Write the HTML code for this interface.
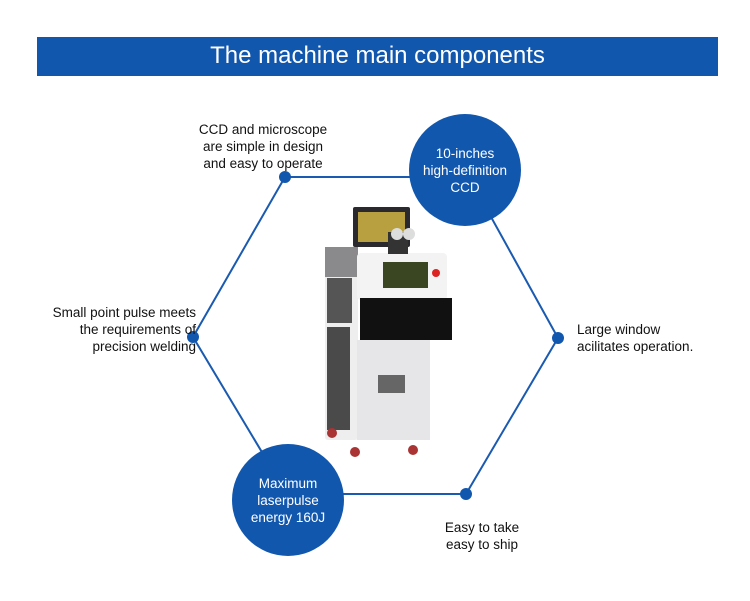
<!DOCTYPE html><html><head><style>
body{margin:0;background:#fff;width:750px;height:601px;overflow:hidden;position:relative;font-family:"Liberation Sans",sans-serif}
.hd{position:absolute;left:37px;top:37px;width:681px;height:39px;background:#1257ae;color:#fff;font-size:24px;text-align:center;line-height:38px}
.t{position:absolute;font-size:13.5px;line-height:17px;color:#111}
.c{position:absolute;color:#fff;font-size:13.5px;line-height:17px;text-align:center}
</style></head><body>
<div class="hd">The machine main components</div>
<svg width="750" height="601" style="position:absolute;left:0;top:0">
<g stroke="#1a5ab0" stroke-width="2" fill="none">
<polyline points="465,170 558,338 466,494 287,494 193,337 285,177 465,177"/>
</g>
<g fill="#1257ae">
<circle cx="465" cy="170" r="56"/><circle cx="288" cy="500" r="56"/>
<circle cx="285" cy="177" r="6"/><circle cx="558" cy="338" r="6"/><circle cx="466" cy="494" r="6"/><circle cx="193" cy="337" r="6"/>
</g>
<rect x="353" y="207" width="57" height="40" rx="2" fill="#2a2a2e"/>
<rect x="358" y="212" width="47" height="30" fill="#b8a040"/>
<rect x="325" y="247" width="33" height="193" rx="3" fill="#eeeeee"/>
<rect x="325" y="247" width="33" height="30" fill="#8a8a8c"/>
<rect x="327" y="278" width="25" height="45" fill="#555"/>
<rect x="327" y="327" width="23" height="103" fill="#4a4a4a"/>
<rect x="357" y="253" width="90" height="47" rx="4" fill="#f3f3f3"/>
<rect x="383" y="262" width="45" height="26" fill="#3a4522"/>
<circle cx="436" cy="273" r="4" fill="#d22"/>
<rect x="357" y="340" width="73" height="100" fill="#e6e6e8"/>
<rect x="360" y="298" width="92" height="42" fill="#111"/>
<rect x="378" y="375" width="27" height="18" fill="#666"/>
<rect x="388" y="232" width="20" height="22" fill="#333"/>
<circle cx="397" cy="234" r="6" fill="#ddd"/><circle cx="409" cy="234" r="6" fill="#ddd"/>
<circle cx="332" cy="433" r="5" fill="#a33"/><circle cx="355" cy="452" r="5" fill="#a33"/><circle cx="413" cy="450" r="5" fill="#a33"/>
</svg>
<div class="t" style="left:183px;top:121px;width:160px;text-align:center">CCD and microscope<br>are simple in design<br>and easy to operate</div>
<div class="c" style="left:409px;top:145px;width:112px">10-inches<br>high-definition<br>CCD</div>
<div class="t" style="left:28px;top:304px;width:168px;text-align:right">Small point pulse meets<br>the requirements of<br>precision welding</div>
<div class="t" style="left:577px;top:321px;width:150px">Large window<br>acilitates operation.</div>
<div class="c" style="left:232px;top:475px;width:112px">Maximum<br>laserpulse<br>energy 160J</div>
<div class="t" style="left:422px;top:519px;width:120px;text-align:center">Easy to take<br>easy to ship</div>
</body></html>
